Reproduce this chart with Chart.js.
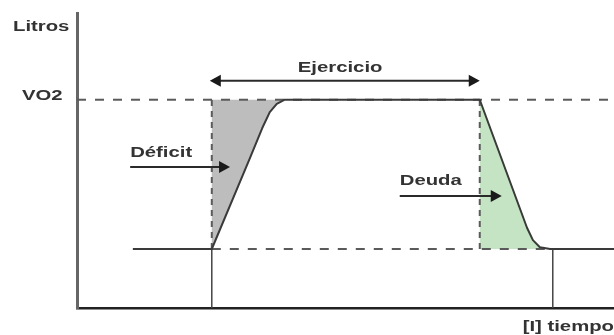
<!DOCTYPE html>
<html>
<head>
<meta charset="utf-8">
<script src="https://cdn.jsdelivr.net/npm/chart.js@4"></script>
<style>
  html, body { margin: 0; padding: 0; background: #fff; }
  #wrap { width: 614px; height: 335px; position: relative; }
</style>
</head>
<body>
<div id="wrap"><canvas id="c"></canvas></div>
<script>
// ---- data (time in arbitrary units 0..100, oxygen in litres 0..5) ----
const levelNames  = ['reposo', 'VO2'];
const levelValues = [1.0, 3.53];
const markTimes   = [10.4, 25.1, 75.0, 88.6, 100]; // rest start, exercise start, exercise end, recovery end, axis end
const riseTime = [25.1, 32.2, 34.5, 35.9, 37.2, 38.7];
const riseVO2  = [1.0, 2.54, 3.05, 3.32, 3.46, 3.53];
const dropTime = [75.0, 83.8, 84.9, 86.2, 88.1];
const dropVO2  = [3.53, 1.36, 1.15, 1.03, 1.0];
const textLabels = ['Litros', 'VO2', 'Ejercicio', 'Déficit', 'Deuda', '[I] tiempo'];

const REST = levelValues[0], VO2 = levelValues[1];
const [tRest, tStart, tEnd, tRec, tMax] = markTimes;
const pts = (xs, ys) => xs.map((x, i) => ({ x, y: ys[i] }));
const rise = pts(riseTime, riseVO2);
const drop = pts(dropTime, dropVO2);

const mainLine = [{ x: tRest, y: REST }, ...rise, ...drop, { x: tMax, y: REST }];
const deficitShape = [{ x: tStart, y: VO2 }, ...rise];
const debtShape = [...drop, { x: tEnd, y: REST }];

const DARK = '#3a3a3a', DASH = '#5a5a5a';
const base = { type: 'line', pointRadius: 0, tension: 0, borderJoinStyle: 'round' };

const datasets = [
  { ...base, data: deficitShape, fill: 'shape', backgroundColor: '#bdbdbd', borderWidth: 0, order: 10 },
  { ...base, data: debtShape, fill: 'shape', backgroundColor: '#c4e4c4', borderWidth: 0, order: 10 },
  { ...base, data: [{ x: 0, y: VO2 }, { x: tMax, y: VO2 }], borderColor: DASH, borderWidth: 2, borderDash: [9, 9], order: 6 },
  { ...base, data: [{ x: tStart, y: REST }, { x: tMax, y: REST }], borderColor: DASH, borderWidth: 2, borderDash: [9, 9], order: 6 },
  { ...base, data: [{ x: tStart, y: REST }, { x: tStart, y: VO2 }], borderColor: DASH, borderWidth: 2, borderDash: [6, 5], order: 5 },
  { ...base, data: [{ x: tEnd, y: REST }, { x: tEnd, y: VO2 }], borderColor: DASH, borderWidth: 2, borderDash: [6, 5], order: 5 },
  { ...base, data: [{ x: tStart, y: 0 }, { x: tStart, y: REST }], borderColor: '#444', borderWidth: 1.5, order: 3 },
  { ...base, data: [{ x: tRec, y: 0 }, { x: tRec, y: REST }], borderColor: '#444', borderWidth: 1.5, order: 3 },
  { ...base, data: mainLine, borderColor: DARK, borderWidth: 2, order: 1 }
];

function stretchedText(ctx, text, x, y, align) {
  const sx = 1.45;
  ctx.save();
  ctx.font = 'bold 14px "Liberation Sans", Arial, sans-serif';
  ctx.fillStyle = '#333';
  ctx.textBaseline = 'alphabetic';
  const w = ctx.measureText(text).width * sx;
  let left = x;
  if (align === 'center') left = x - w / 2;
  if (align === 'right') left = x - w;
  ctx.translate(left, y);
  ctx.scale(sx, 1);
  ctx.textAlign = 'left';
  ctx.fillText(text, 0, 0);
  ctx.restore();
}

function arrowHead(ctx, tipX, y, dir) {
  const L = 11, H = 6;
  ctx.beginPath();
  ctx.moveTo(tipX, y);
  ctx.lineTo(tipX - dir * L, y - H);
  ctx.lineTo(tipX - dir * L, y + H);
  ctx.closePath();
  ctx.fill();
}

function arrow(ctx, x1, x2, y, both) {
  ctx.save();
  ctx.strokeStyle = '#2a2a2a';
  ctx.fillStyle = '#1a1a1a';
  ctx.lineWidth = 2;
  ctx.beginPath();
  ctx.moveTo(x1 + (both ? 6 : 0), y);
  ctx.lineTo(x2 - 6, y);
  ctx.stroke();
  arrowHead(ctx, x2, y, 1);
  if (both) arrowHead(ctx, x1, y, -1);
  ctx.restore();
}

const annotations = {
  id: 'annotations',
  afterDatasetsDraw(chart) {
    const ctx = chart.ctx, xs = chart.scales.x, ys = chart.scales.y;
    const X = v => xs.getPixelForValue(v), Y = v => ys.getPixelForValue(v);
    // Ejercicio
    arrow(ctx, X(tStart) - 2, X(tEnd), Y(3.85), true);
    stretchedText(ctx, textLabels[2], X(49.0), Y(4.0), 'center');
    // Déficit
    arrow(ctx, X(9.9), X(28.5), Y(2.39), false);
    stretchedText(ctx, textLabels[3], X(9.9), Y(2.56), 'left');
    // Deuda
    arrow(ctx, X(60.1), X(79.1), Y(1.90), false);
    stretchedText(ctx, textLabels[4], X(60.1), Y(2.08), 'left');
    // axis texts
    stretchedText(ctx, textLabels[0], 13, Y(4.7), 'left');
    stretchedText(ctx, textLabels[1], 22, Y(VO2), 'left');
    stretchedText(ctx, textLabels[5], 614, 331, 'right');
  }
};

new Chart(document.getElementById('c'), {
  type: 'line',
  data: { datasets },
  options: {
    responsive: true,
    maintainAspectRatio: false,
    animation: false,
    parsing: true,
    layout: { padding: { top: 13, right: 0, bottom: 0, left: 0 } },
    plugins: { legend: { display: false }, tooltip: { enabled: false } },
    scales: {
      x: {
        type: 'linear', min: 0, max: 100,
        grid: { display: false, drawTicks: false },
        ticks: { display: false },
        border: { display: true, color: '#222', width: 2.5 },
        afterFit(s) { s.height = 27; }
      },
      y: {
        type: 'linear', min: 0, max: 5,
        grid: { display: false, drawTicks: false },
        ticks: { display: false },
        border: { display: true, color: '#666', width: 3 },
        afterFit(s) { s.width = 77; }
      }
    }
  },
  plugins: [annotations]
});
</script>
</body>
</html>
